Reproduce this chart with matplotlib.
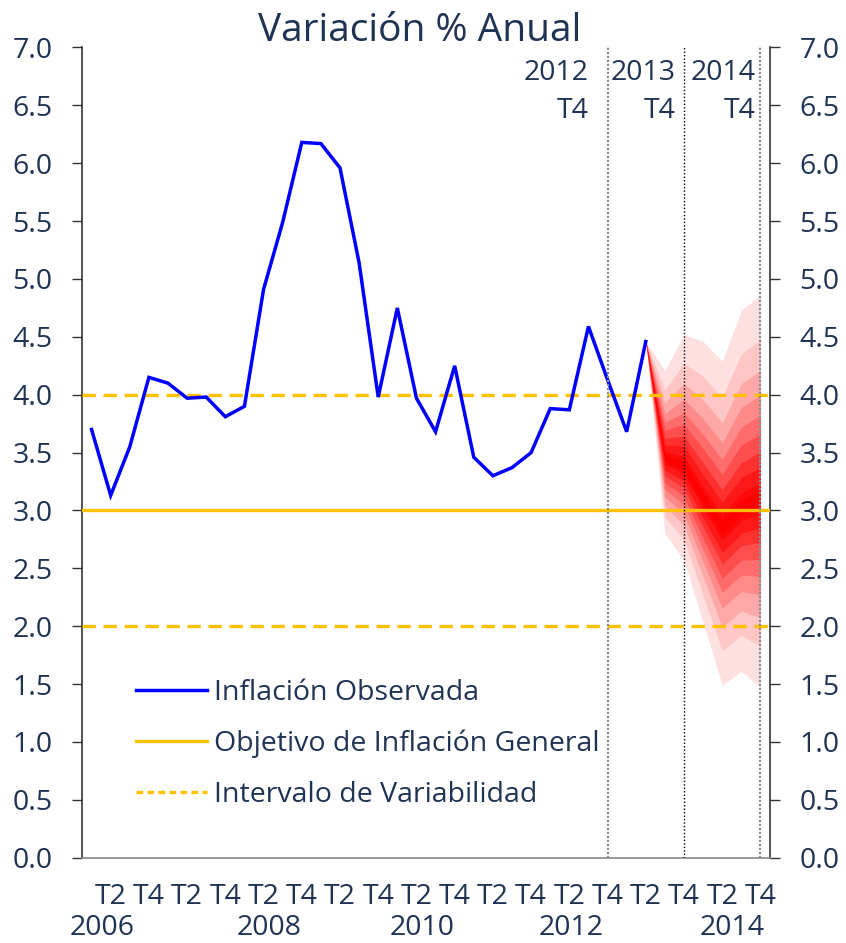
import matplotlib
matplotlib.use("Agg")
import matplotlib.pyplot as plt
import matplotlib.transforms as mtransforms
import numpy as np

# Observed annual inflation, quarterly, 2006 T1 .. 2013 T2
observed = [3.70, 3.13, 3.55, 4.15,
            4.10, 3.97, 3.98, 3.81,
            3.90, 4.91, 5.49, 6.18,
            6.17, 5.96, 5.14, 3.98,
            4.75, 3.97, 3.68, 4.25,
            3.46, 3.30, 3.37, 3.50,
            3.88, 3.87, 4.59, 4.13,
            3.68, 4.46]

# Forecast fan, 2013 T2 .. 2014 T4
fan_center = [4.46, 3.45, 3.38, 3.10, 2.85, 3.02, 3.10]
fan_upper = [4.46, 4.21, 4.52, 4.46, 4.29, 4.73, 4.86]
fan_lower = [4.46, 2.80, 2.57, 2.03, 1.49, 1.61, 1.47]
# relative half-width of each band edge, outermost first
band_spread = [1.0, 0.78, 0.63, 0.51, 0.41, 0.32, 0.23, 0.154, 0.077]
band_colors = ['#ffe0e0', '#ffc6c6', '#ffa8a8', '#ff8a8a', '#ff6c6c',
               '#ff4e4e', '#ff3030', '#ff1818', '#ff0808']

target = 3.0
band_low, band_high = 2.0, 4.0

quarter_labels = ['T2', 'T4'] * 9
year_labels = ['2006', '2008', '2010', '2012', '2014']
year_label_pos = [0.55, 9.27, 17.3, 25.1, 33.5]
marker_labels = [('2012', 'T4'), ('2013', 'T4'), ('2014', 'T4')]
marker_label_pos = [26.0, 30.55, 34.75]
marker_lines = [27, 31, 35]
marker_styles = [('#8c8c8c', 1.6, (0, (1, 0.8))),
                 ('#000000', 1.0, (0, (1, 1.5))),
                 ('#8c8c8c', 1.6, (0, (1, 0.8)))]

text_color = '#1f3354'
font = 'Open Sans'
fs = 20.5

plt.rcParams['font.family'] = [font, 'DejaVu Sans']

fig = plt.figure(figsize=(8.46, 9.43), dpi=100)
ax = fig.add_axes([82 / 846, 1 - 857.7 / 943, (770 - 82) / 846, (857.7 - 47.5) / 943])

n_obs = len(observed)
x_obs = np.arange(n_obs)
x_fan = np.arange(n_obs - 1, n_obs - 1 + len(fan_center))

# fan chart
c = np.array(fan_center)
up = np.array(fan_upper)
lo = np.array(fan_lower)
for s, col in zip(band_spread, band_colors):
    ax.fill_between(x_fan, c - s * (c - lo), c + s * (up - c), color=col, lw=0, zorder=2)
inner = 0.077 * 0.5
ax.fill_between(x_fan, c - inner * (c - lo), c + inner * (up - c), color='#ff0000', lw=0, zorder=2)

# reference lines
ax.axhline(target, color='#ffc000', lw=2.4, zorder=3)
for v in (band_low, band_high):
    ax.axhline(v, color='#ffc000', lw=2.4, ls=(0, (4, 2.3)), zorder=3)

ax.plot(x_obs, observed, color='#0000ff', lw=2.5, zorder=4, solid_joinstyle='miter')

for xv, (colr, lw, ls) in zip(marker_lines, marker_styles):
    ax.axvline(xv, color=colr, lw=lw, ls=ls, zorder=5)

ax.set_xlim(-0.5, 35.5)
ax.set_ylim(0, 7)

yt = np.arange(0, 7.01, 0.5)
ax.set_yticks(yt)
ax.set_yticklabels([f'{v:.1f}' for v in yt])
ax.tick_params(axis='y', which='both', left=True, right=True, labelleft=True, labelright=True,
               length=7.2, width=1, color='#333333', pad=14, labelsize=fs, labelcolor=text_color)
ax.set_xticks(np.arange(1, 36, 2))
ax.set_xticklabels(quarter_labels)
ax.tick_params(axis='x', length=0, pad=18.5, labelsize=fs, labelcolor=text_color)

for sp in ('left', 'right'):
    ax.spines[sp].set_color('#333333')
    ax.spines[sp].set_linewidth(1.2)
ax.spines['top'].set_visible(False)
ax.spines['bottom'].set_color('#888888')
ax.spines['bottom'].set_linewidth(1.2)

# year row below the quarter labels
trans = mtransforms.blended_transform_factory(ax.transData, ax.transAxes)
for lab, xp in zip(year_labels, year_label_pos):
    ax.text(xp, (857.7 - 942) / 810.2, lab, transform=trans, ha='center', va='bottom',
            fontsize=fs, color=text_color)

for (yr, q), xp in zip(marker_labels, marker_label_pos):
    ax.text(xp, 6.78, yr, ha='right', va='center', fontsize=fs, color=text_color)
    ax.text(xp, 6.45, q, ha='right', va='center', fontsize=fs, color=text_color)

# legend
ax.plot([], [], color='#0000ff', lw=2.5, label='Inflación Observada')
ax.plot([], [], color='#ffc000', lw=2.4, label='Objetivo de Inflación General')
ax.plot([], [], color='#ffc000', lw=2.4, ls=(0, (2, 1.3)), label='Intervalo de Variabilidad')
handles, labels = ax.get_legend_handles_labels()
leg = ax.legend(handles[-3:], labels[-3:], loc='upper left',
                bbox_to_anchor=((110 - 82) / 688, (857.7 - 653) / 810.2),
                frameon=False, fontsize=fs, handlelength=2.5, handletextpad=0.25,
                labelspacing=0.80, labelcolor=text_color)

fig.text(420 / 846, 1 - 31 / 943, 'Variación % Anual', ha='center', va='center',
         fontsize=28, color=text_color)

fig.savefig('out.png', dpi=100)
